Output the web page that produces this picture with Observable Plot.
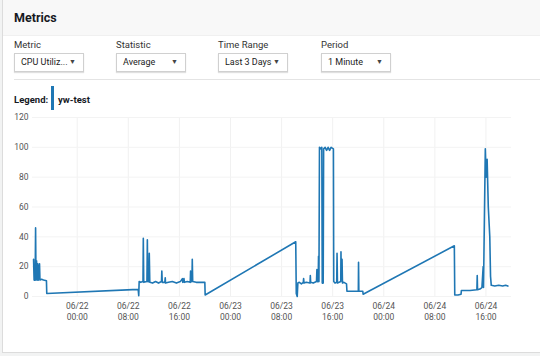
<!DOCTYPE html>
<html>
<head>
<meta charset="utf-8">
<script src="https://cdn.jsdelivr.net/npm/d3@7"></script>
<script src="https://cdn.jsdelivr.net/npm/@observablehq/plot@0.6"></script>
<style>
  html, body { margin: 0; padding: 0; background: #f2f3f3; width: 540px; height: 356px; overflow: hidden; }
  body { font-family: Roboto, "Liberation Sans", sans-serif; color: #16191f; position: relative; }
  .card { position: absolute; left: 2px; top: -2px; width: 560px; height: 355px; background: #fff; border: 1px solid #dcdcdc; box-sizing: border-box; }
  .hdr { position: absolute; left: 0; top: 0; right: 0; height: 36px; background: #f8f8f8; border-bottom: 1px solid #f0f0f0; }
  .hdr span { position: absolute; left: 11px; top: 11px; font-weight: 700; font-size: 12.5px; }
  .ctl { position: absolute; top: 40px; font-size: 9.5px; color: #333; }
  .ctl .lab { height: 14px; }
  .ctl .box { width: 70px; height: 19px; border: 1px solid #d0d0d0; box-sizing: border-box; background: #fff; box-shadow: 0 1px 1px rgba(0,0,0,0.12); position: relative; font-size: 9px; line-height: 17px; padding-left: 6px; color: #222; white-space: nowrap; }
  .ctl .box i { position: absolute; right: 7px; top: 0; font-style: normal; font-size: 7px; color: #444; }
  .divider { position: absolute; left: 11px; right: 0; top: 80px; border-top: 1px solid #e4e4e4; }
  .legend { position: absolute; left: 11px; top: 95px; font-size: 9.5px; font-weight: 700; }
  .legend .bar { position: absolute; left: 37px; top: -8px; width: 3px; height: 24px; background: #1f77b4; }
  .legend .name { position: absolute; left: 44px; top: 0; white-space: nowrap; }
  #chart { position: absolute; left: -2px; top: 110px; }
</style>
</head>
<body>
<div class="card">
  <div class="hdr"><span>Metrics</span></div>
  <div class="ctl" style="left:11px"><div class="lab">Metric</div><div class="box">CPU Utiliz...<i>▼</i></div></div>
  <div class="ctl" style="left:113px"><div class="lab">Statistic</div><div class="box">Average<i>▼</i></div></div>
  <div class="ctl" style="left:215px"><div class="lab">Time Range</div><div class="box">Last 3 Days<i>▼</i></div></div>
  <div class="ctl" style="left:318px"><div class="lab">Period</div><div class="box">1 Minute<i>▼</i></div></div>
  <div class="divider"></div>
  <div class="legend">Legend:<div class="bar"></div><div class="name">yw-test</div></div>
  <div id="chart"></div>
</div>
<script>
// CPU Utilization (Average, 1 minute) for yw-test; gaps are joined by straight lines
const times = [
  "06-21 17:10","06-21 17:15","06-21 17:19","06-21 17:25","06-21 17:29","06-21 17:33","06-21 17:38","06-21 17:45",
  "06-21 17:49","06-21 17:54","06-21 18:06","06-21 18:10","06-21 18:25","06-21 18:43","06-21 19:11","06-21 19:14",
  "06-22 09:33","06-22 09:38","06-22 09:42","06-22 09:56","06-22 10:18","06-22 10:21","06-22 10:25","06-22 10:55",
  "06-22 10:59","06-22 11:03","06-22 11:14","06-22 11:17","06-22 11:22","06-22 11:48","06-22 12:16","06-22 12:44",
  "06-22 13:12","06-22 13:15","06-22 13:19","06-22 13:43","06-22 13:47","06-22 13:50","06-22 14:17","06-22 14:54",
  "06-22 15:32","06-22 16:09","06-22 16:28","06-22 16:32","06-22 16:43","06-22 16:47","06-22 17:14","06-22 17:42",
  "06-22 17:45","06-22 17:49","06-22 17:58","06-22 18:01","06-22 18:05","06-22 18:38","06-22 19:15","06-22 19:59",
  "06-22 20:02",
  "06-23 10:13","06-23 10:18","06-23 10:27","06-23 10:33","06-23 10:47","06-23 11:06","06-23 11:24","06-23 11:27",
  "06-23 11:31","06-23 11:52","06-23 12:27","06-23 12:30","06-23 12:33","06-23 12:57","06-23 13:28","06-23 13:32",
  "06-23 13:36","06-23 13:44","06-23 13:47","06-23 13:51","06-23 13:56","06-23 14:07","06-23 14:18","06-23 14:22",
  "06-23 14:31","06-23 14:35","06-23 14:49","06-23 15:03","06-23 15:17","06-23 15:31","06-23 15:45","06-23 16:07",
  "06-23 16:10","06-23 16:22","06-23 16:38","06-23 16:41","06-23 16:45","06-23 17:16","06-23 17:18","06-23 17:21",
  "06-23 17:28","06-23 17:32","06-23 17:46","06-23 18:10","06-23 18:14","06-23 18:52","06-23 19:29","06-23 20:01",
  "06-23 20:03","06-23 20:06","06-23 20:43","06-23 20:46",
  "06-24 11:03","06-24 11:07","06-24 11:38","06-24 12:06","06-24 12:09","06-24 12:43","06-24 13:30","06-24 14:35",
  "06-24 14:38","06-24 14:41","06-24 15:03","06-24 15:22","06-24 15:34","06-24 15:37","06-24 15:54","06-24 16:02",
  "06-24 16:11","06-24 16:22","06-24 16:36","06-24 16:43","06-24 16:50","06-24 17:23","06-24 18:00","06-24 18:37",
  "06-24 19:05","06-24 19:26"
];
const cpu = [
  25, 11, 13, 11, 46, 11, 24, 11,
  22, 11, 22, 11, 11.5, 11, 10.5, 2,
  4.8, 0.5, 10, 9.5, 10, 39, 9.5, 10,
  38, 10, 10, 29, 9.5, 9, 10, 9,
  10, 17, 9.5, 9.5, 12.5, 9, 9.5, 10,
  9, 10, 12, 9.5, 12, 9.5, 10, 9.5,
  17, 10, 10, 25, 10, 9.5, 9.5, 9.5,
  1,
  36.7, 2, 0, 9, 9.5, 8.5, 9.5, 12,
  9, 9.5, 9, 14, 9.5, 9, 10, 18,
  10, 10, 27, 10, 100, 99, 100, 9,
  9, 99, 100, 98, 100, 98, 100, 99,
  10, 9, 9.5, 29, 9, 10, 30, 12,
  25, 9, 9.5, 8.5, 3.5, 3.5, 3.5, 3.5,
  23, 3.5, 3.5, 1.5,
  34, 1, 1, 1.5, 4, 4, 4, 4.5,
  14, 4.5, 5, 6, 20, 6, 99, 80,
  92, 60, 40, 13.6, 7.5, 7, 7.5, 7,
  7.5, 7
];
const yTicks = [0, 20, 40, 60, 80, 100, 120];
const xTickLabels = ["06/22 00:00","06/22 08:00","06/22 16:00","06/23 00:00","06/23 08:00","06/23 16:00","06/24 00:00","06/24 08:00","06/24 16:00"];
const domainStart = "06-21 17:00";
const domainEnd = "06-24 20:00";

const parse = d3.utcParse("%Y-%m-%d %H:%M");
const P = s => parse("2019-" + s);
const parseTick = d3.utcParse("%Y/%m/%d %H:%M");
const xTicks = xTickLabels.map(s => parseTick("2019/" + s));
const data = times.map((t, i) => ({time: P(t), value: cpu[i]}));

const chart = Plot.plot({
  width: 540,
  height: 222,
  marginLeft: 31,
  marginRight: 30,
  marginTop: 8,
  marginBottom: 35,
  style: {fontFamily: "Roboto, 'Liberation Sans', sans-serif", fontSize: "8.5px", color: "#555", background: "transparent"},
  x: {
    type: "utc",
    domain: [P(domainStart), P(domainEnd)],
    axis: null
  },
  y: {
    domain: [0, 120],
    ticks: yTicks,
    tickSize: 0,
    tickPadding: 4,
    label: null
  },
  marks: [
    Plot.gridX(xTicks, {stroke: "#f1f1f1", strokeOpacity: 1}),
    Plot.gridY(yTicks, {stroke: "#f3f3f3", strokeOpacity: 1}),
    Plot.axisX(xTicks, {tickFormat: d3.utcFormat("%m/%d\n%H:%M"), tickSize: 0, tickPadding: 5, lineHeight: 1.3, label: null}),
    Plot.line(data, {x: "time", y: "value", stroke: "#1f77b4", strokeWidth: 1.6, curve: "linear"})
  ]
});
document.getElementById("chart").appendChild(chart);
</script>
</body>
</html>
